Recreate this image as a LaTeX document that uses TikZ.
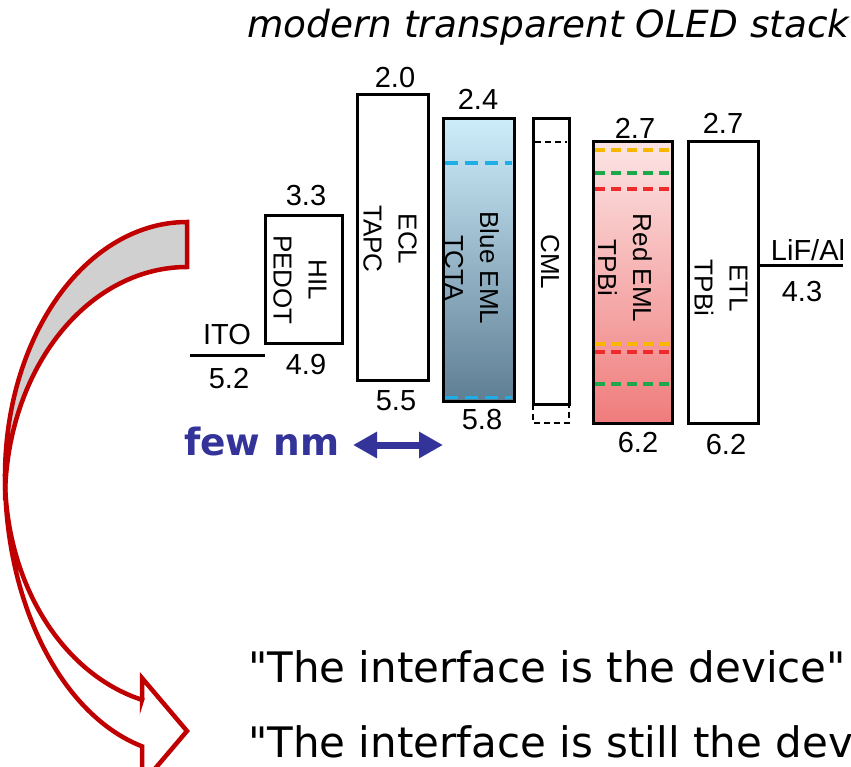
\documentclass[tikz,border=0pt]{standalone}
\usepackage{fontspec}
\setmainfont{DejaVu Sans}
\newfontfamily\qfont{DejaVu Sans}
\newfontfamily\labfont{Liberation Sans}
\usetikzlibrary{arrows.meta}
\definecolor{arrred}{RGB}{192,0,0}
\definecolor{arrgray}{RGB}{208,208,208}
\definecolor{fewblue}{RGB}{51,51,153}
\definecolor{bluetop}{RGB}{206,237,251}
\definecolor{bluebot}{RGB}{94,126,148}
\definecolor{redtop}{RGB}{252,228,228}
\definecolor{redbot}{RGB}{240,124,124}
\definecolor{dcyan}{RGB}{30,174,230}
\definecolor{dyellow}{RGB}{249,183,0}
\definecolor{dgreen}{RGB}{27,168,74}
\definecolor{dred}{RGB}{238,42,42}
\begin{document}
\begin{tikzpicture}[x=1pt,y=-1pt,
  layer/.style={draw, line width=3pt, inner sep=0pt, outer sep=0pt},
  num/.style={font=\labfont\fontsize{29}{32}\selectfont, inner sep=0pt},
  vlab/.style={font=\labfont\fontsize{26}{35}\selectfont, rotate=-90, align=center, inner sep=0pt},
  lvl/.style={line width=3pt},
  dsh/.style={line width=3.2pt, dash pattern=on 10pt off 6pt},
  band/.style={draw=arrred, line width=4.5pt, line join=miter, miter limit=10},
  quote/.style={font=\qfont\fontsize{42}{50}\selectfont, anchor=base west, inner sep=0pt},
]
\useasboundingbox (0,0) rectangle (851,767);
\clip (0,0) rectangle (851,767);

% title
\node[font=\itshape\fontsize{37.4}{40}\selectfont, anchor=base west, inner sep=0pt] (title) at (247,38) {modern transparent OLED stack};

% layers
\node[layer, minimum width=77pt, minimum height=127pt] (hil) at (303.5,279.5) {};
\node[layer, minimum width=71pt, minimum height=285pt] (ecl) at (392.5,237.5) {};
\node[layer, top color=bluetop, bottom color=bluebot, minimum width=71pt, minimum height=282pt] (beml) at (478.5,260) {};
\draw[dsh, dcyan, dash pattern=on 13pt off 7pt] (445,163) -- (512,163);
\draw[dsh, dcyan, dash pattern=on 13pt off 7pt] (445,397.5) -- (512,397.5);
\node[layer, minimum width=36pt, minimum height=285pt] (cml) at (551,261.5) {};
\draw[line width=2.4pt, dash pattern=on 6pt off 4pt] (cml.south west) -- (533,423) -- (569,423) -- (cml.south east);
\draw[line width=2.2pt, dash pattern=on 6pt off 4pt] (535,142) -- (567,142);
\node[layer, top color=redtop, bottom color=redbot, minimum width=79pt, minimum height=281pt] (reml) at (632.5,282.5) {};
\draw[dsh, dyellow] (595,150) -- (670,150);
\draw[dsh, dgreen] (595,173) -- (670,173);
\draw[dsh, dred] (595,189) -- (670,189);
\draw[dsh, dyellow] (595,344) -- (670,344);
\draw[dsh, dred] (595,352) -- (670,352);
\draw[dsh, dgreen] (595,384) -- (670,384);
\node[layer, minimum width=70pt, minimum height=281pt] (etl) at (723,282.5) {};

% electrode levels
\coordinate (itoL) at (190,355);
\coordinate (itoR) at (265,355);
\draw[lvl] (itoL) -- (itoR);
\coordinate (lifL) at (758,266);
\coordinate (lifR) at (843,266);
\draw[lvl] (lifL) -- (lifR);

% numbers
\node[num] (n20) at (395,78) {2.0};
\node[num] (n33) at (306,196) {3.3};
\node[num] (ito) at (227,335) {ITO};
\node[num] (n52) at (229,379) {5.2};
\node[num] (n49) at (306,365) {4.9};
\node[num] (n55) at (396,401) {5.5};
\node[num] (n24) at (478,99) {2.4};
\node[num] (n58) at (482,420) {5.8};
\node[num] (n27a) at (635,128) {2.7};
\node[num] (n27b) at (723,123) {2.7};
\node[num] (n62a) at (638,443) {6.2};
\node[num] (n62b) at (726,445) {6.2};
\node[num] (lif) at (808,250) {LiF/Al};
\node[num] (n43) at (802,292) {4.3};

% rotated layer labels
\node[vlab] (hilt) at (300,280) {HIL\\PEDOT};
\node[vlab] (eclt) at (390,239) {ECL\\TAPC};
\node[vlab] (bemlt) at (472,268) {Blue EML\\TCTA};
\node[vlab] (cmlt) at (550,262) {CML};
\node[vlab] (remlt) at (625,268) {Red EML\\TPBi};
\node[vlab] (etlt) at (721,288) {ETL\\TPBi};

% few nm
\node[font=\bfseries\fontsize{37.5}{40}\selectfont, text=fewblue, anchor=base west, inner sep=0pt] (few) at (184,455) {few nm};
\coordinate (fa) at (353,445);
\coordinate (fb) at (443,445);
\draw[fewblue, line width=7pt, {Triangle[length=24pt,width=25pt]}-{Triangle[length=24pt,width=25pt]}] (fa) -- (fb);

% curved arrow
\filldraw[band, fill=white] plot[domain=180:104.3, samples=80] ({187+182*cos(\x)},{476+279*sin(\x)}) -- (142,784) -- (187,731) -- (142,678) -- (142,700) -- plot[domain=104.3:180, samples=80] ({187+182*cos(\x)},{476+231*sin(\x)}) -- cycle;
\filldraw[band, fill=arrgray] plot[domain=-90:-180, samples=80] ({187+182*cos(\x)},{476+254*sin(\x)}) -- (5,500) -- plot[domain=-180:-90, samples=80] ({187+182*cos(\x)},{500+233*sin(\x)}) -- cycle;

% quotes
\node[quote] (q1) at (248,682) {"The interface is the device"};
\node[quote] (q2) at (248,757) {"The interface is still the device"};
\end{tikzpicture}
\end{document}
